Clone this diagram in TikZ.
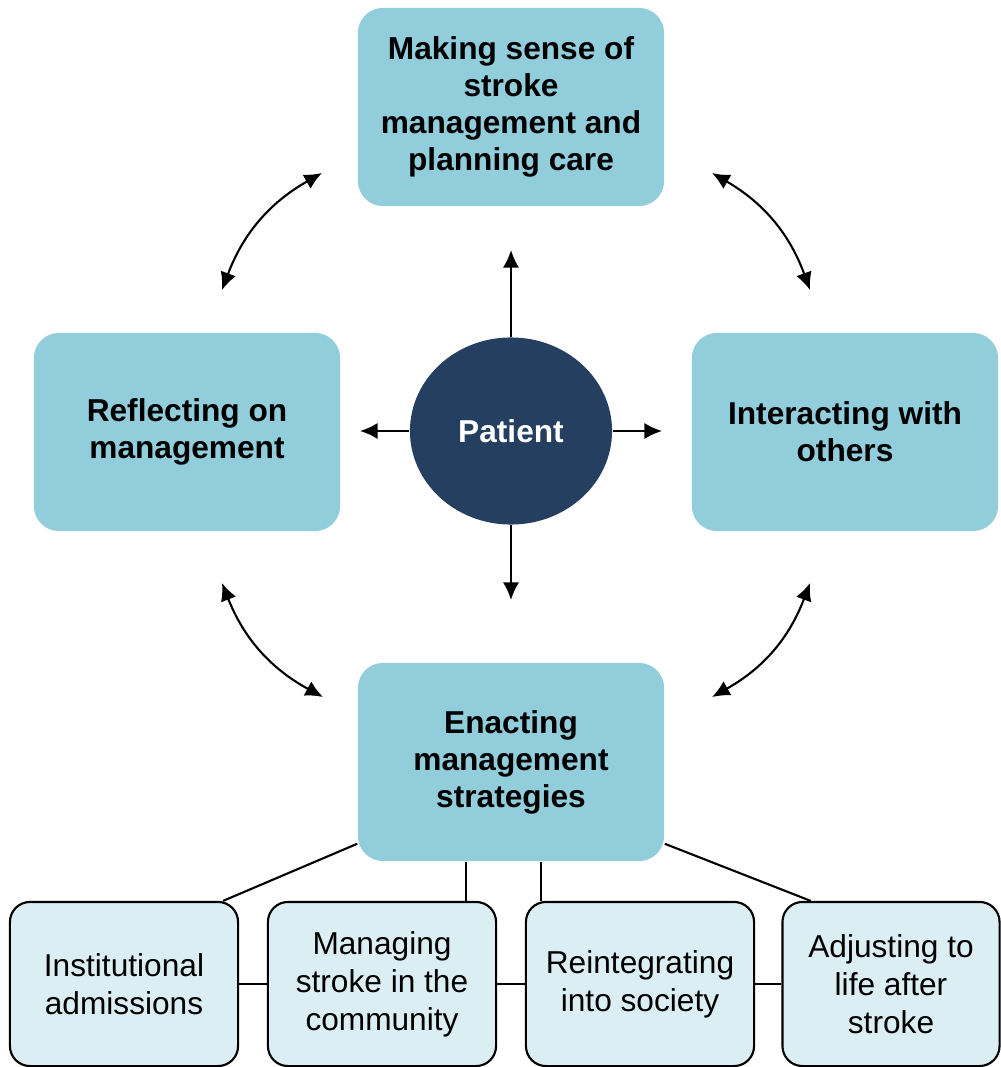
\documentclass[tikz,border=0pt]{standalone}
\usepackage{fontspec}
\setmainfont{Liberation Sans}
\usepackage{xcolor}
\usetikzlibrary{shapes.geometric, arrows.meta}
\definecolor{themebox}{HTML}{92CDDC}
\definecolor{subbox}{HTML}{DBEEF4}
\definecolor{hub}{HTML}{243F60}

\begin{document}
\begin{tikzpicture}[x = 0.01cm, y = -0.01cm, >={Latex[length = 5pt, width = 4.6pt]},
theme/.style = {fill = themebox, rounded corners = 0.25cm, minimum width = 3.06cm, minimum height = 1.98cm, align = center, font = \fontsize{9}{10.5}\selectfont\bfseries, inner sep = 0pt},
sub/.style = {draw, fill = subbox, rounded corners = 0.2cm, minimum width = 2.28cm, minimum height = 1.64cm, align = center, font = \fontsize{9}{10.8}\selectfont, inner sep = 0pt, line width = 0.6pt},
lnk/.style = {line width = 0.6pt}
]
\useasboundingbox (0,0) rectangle (1001,1067);
\node[theme] (making) at (511,107) {Making sense of\\stroke\\management and\\planning care};
\node[theme] (reflect) at (187,432) {Reflecting on\\management};
\node[theme] (interact) at (845,432) {Interacting with\\others};
\node[theme] (enact) at (511,762) {Enacting\\management\\strategies};
\node[ellipse, fill = hub, minimum width = 2.02cm, minimum height = 1.87cm, text = white, font = \fontsize{9}{10.5}\selectfont\bfseries] (patient) at (511,431) {Patient};
\node[sub] (inst) at (124,984) {Institutional\\admissions};
\node[sub] (manage) at (382,984) {Managing\\stroke in the\\community};
\node[sub] (reint) at (640,984) {Reintegrating\\into society};
\node[sub, minimum width = 2.17cm] (adjust) at (891,984) {Adjusting to\\life after\\stroke};
% ends of the arrows
\coordinate (pn) at (511,250);
\coordinate (ps) at (511,600);
\coordinate (pw) at (360,431);
\coordinate (pe) at (662,431);
\coordinate (nwa) at (222,290);
\coordinate (nwb) at (322,173);
\coordinate (nea) at (712,173);
\coordinate (neb) at (810,290);
\coordinate (sea) at (810,583);
\coordinate (seb) at (712,697);
\coordinate (swa) at (323,697);
\coordinate (swb) at (222,583);
\foreach \p in {pn, ps, pw, pe}{\draw[->, lnk] (patient) -- (\p);}
\foreach \i/\j in {nwa/nwb, nea/neb, sea/seb, swa/swb}{\draw[<->, lnk] (\i) to[bend left = 20] (\j);}
% tree below
\draw[lnk] (enact.208) -- (inst.40);
\draw[lnk] (enact.-28) -- (adjust.134);
\draw[lnk] ([xshift = -0.45cm]enact.south) -- ([xshift = -0.45cm]enact.south |- manage.north);
\draw[lnk] ([xshift = 0.30cm]enact.south) -- ([xshift = 0.30cm]enact.south |- reint.north);
\foreach \i/\j in {inst/manage, manage/reint, reint/adjust}{\draw[lnk] (\i) -- (\j);}
\end{tikzpicture}
\end{document}
